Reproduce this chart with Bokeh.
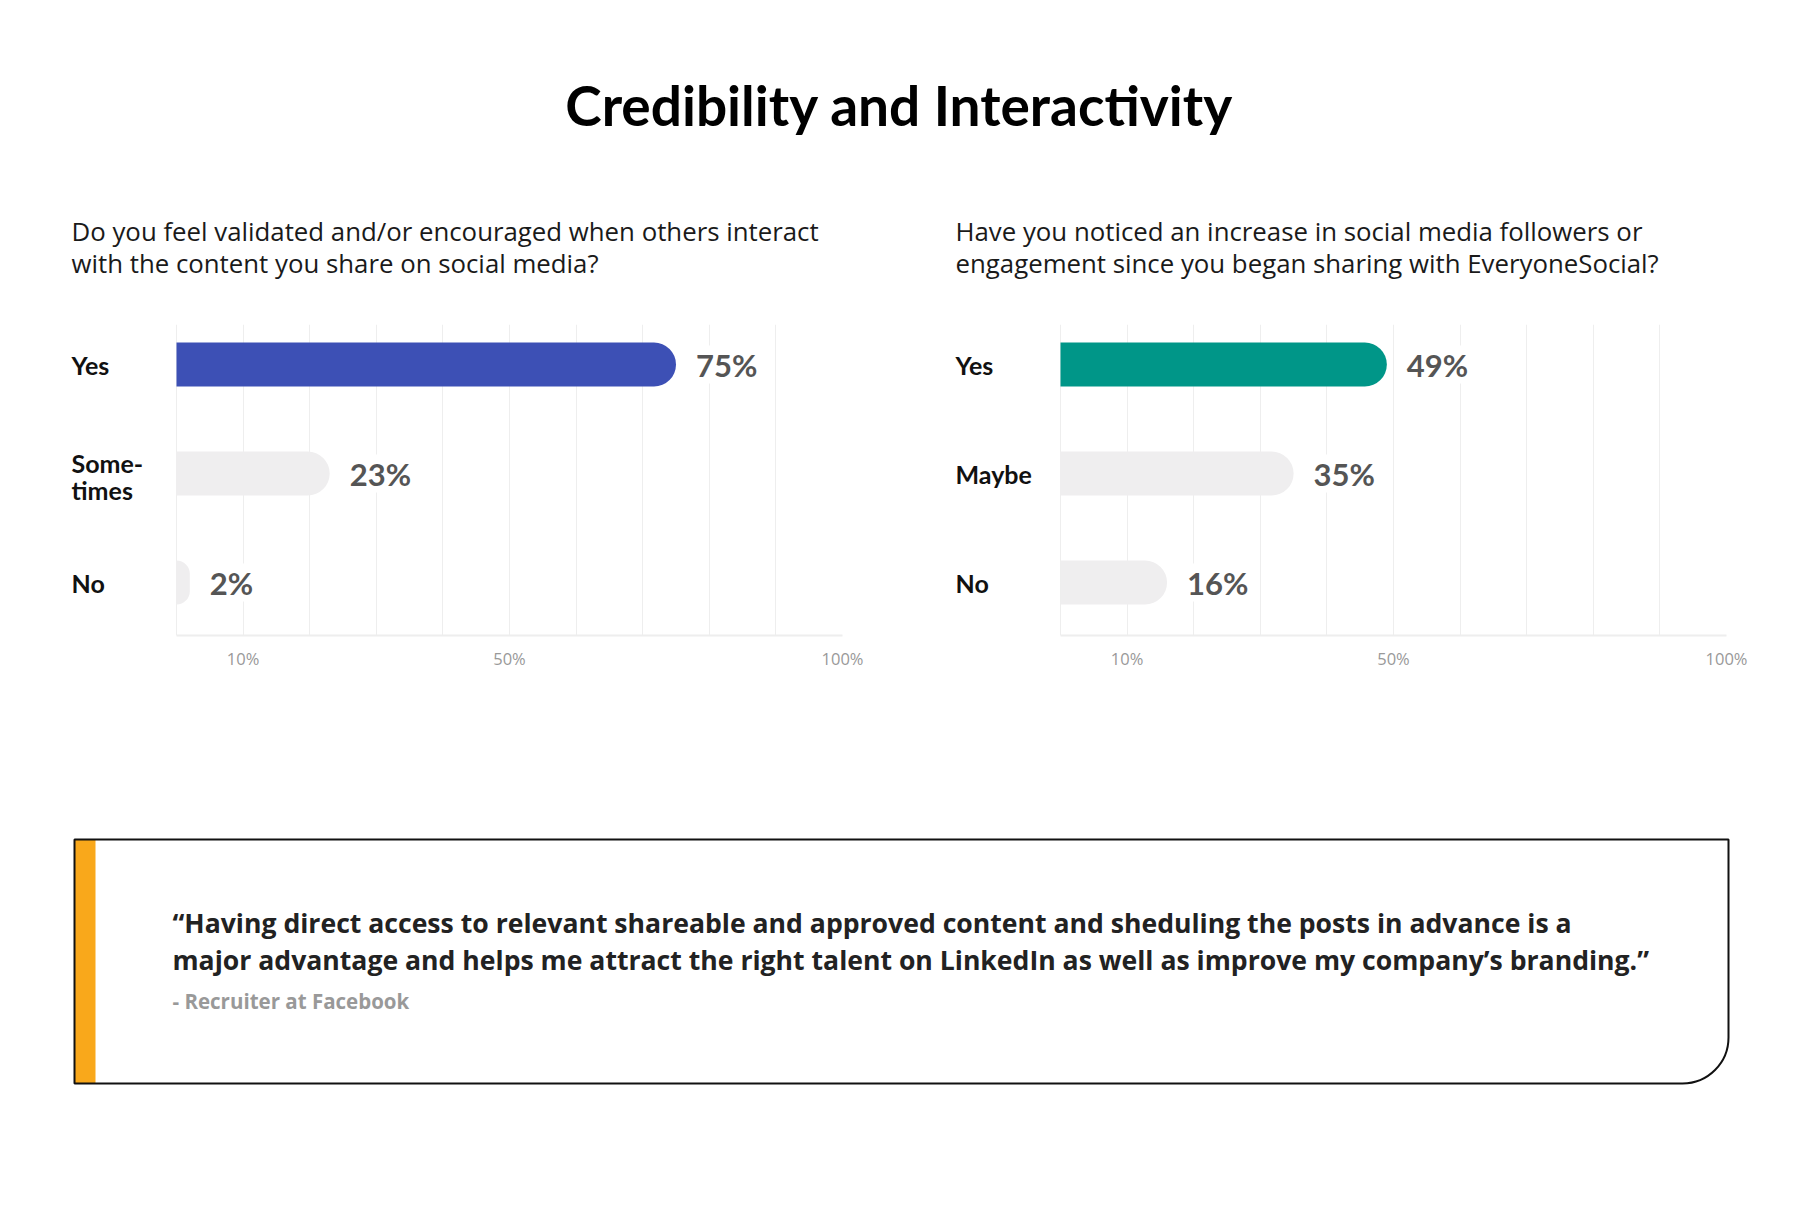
from bokeh.plotting import figure
from bokeh.models import Range1d, FixedTicker, Label
from bokeh.layouts import column, row
from bokeh.embed import file_html
from bokeh.resources import INLINE

# ---------------- data ----------------
TITLE = "Credibility and Interactivity"
Q1_LINES = ["Do you feel validated and/or encouraged when others interact",
            "with the content you share on social media?"]
Q2_LINES = ["Have you noticed an increase in social media followers or",
            "engagement since you began sharing with EveryoneSocial?"]
CATS1 = ["Yes", "Some-\ntimes", "No"]
VALS1 = [75, 23, 2]
CATS2 = ["Yes", "Maybe", "No"]
VALS2 = [49, 35, 16]
TICKS = [10, 50, 100]
TICK_LABELS = {10: "10%", 50: "50%", 100: "100%"}
GRID_TICKS = [0, 10, 20, 30, 40, 50, 60, 70, 80, 90, 100]
QUOTE_LINES = ["\u201cHaving direct access to relevant shareable and approved content and sheduling the posts in advance is a",
               "major advantage and helps me attract the right talent on LinkedIn as well as improve my company\u2019s branding.\u201d"]
ATTRIB = "- Recruiter at Facebook"

HFONT = "Lato"
BFONT = "Open Sans"
PAGE_W = 1784


def blank(width, height):
    f = figure(width=width, height=height, x_range=Range1d(0, width), y_range=Range1d(0, height),
               output_backend="svg", toolbar_location=None, min_border=0,
               x_axis_location=None, y_axis_location=None)
    f.outline_line_color = None
    f.xgrid.visible = False
    f.ygrid.visible = False
    return f


# ---------------- header (title + questions) ----------------
HEAD_H = 300
head = blank(PAGE_W, HEAD_H)
head.add_layout(Label(x=899, y=HEAD_H - 104, text=TITLE, text_align="center",
                      text_baseline="middle", text_font=HFONT, text_font_size="55px",
                      text_font_style="bold", text_color="#000000"))
for qx, qlines in ((71, Q1_LINES), (955, Q2_LINES)):
    for k, line in enumerate(qlines):
        head.add_layout(Label(x=qx, y=HEAD_H - (230 + 32 * k), text=line, text_baseline="middle",
                              text_font=BFONT, text_font_size="25.8px", text_color="#1a1a1a"))

# ---------------- charts ----------------
FW, FH = 666, 311
CH_H = 420
TOP = 24
Y0, Y1 = 2.486, -0.367
PPU = FH / (Y0 - Y1)
PAD = 116  # px of label room left of zero


def chart(cats, vals, color, fig_left, width, zero):
    frame_left = zero - PAD
    p = figure(width=width, height=CH_H, x_range=Range1d(-PAD * 100 / FW, 100), y_range=Range1d(Y0, Y1),
               output_backend="svg", toolbar_location=None,
               min_border_left=frame_left - fig_left, min_border_right=fig_left + width - (zero + FW),
               min_border_top=TOP, min_border_bottom=CH_H - TOP - FH,
               y_axis_location=None)
    p.outline_line_color = None
    p.ygrid.visible = False
    p.xgrid.ticker = FixedTicker(ticks=GRID_TICKS)
    p.xgrid.grid_line_color = "#eeeeee"
    p.xgrid.grid_line_width = 1
    ax = p.xaxis[0]
    ax.bounds = (0, 100)
    ax.ticker = FixedTicker(ticks=TICKS)
    ax.major_label_overrides = TICK_LABELS
    ax.axis_line_color = "#eeeeee"
    ax.axis_line_width = 2
    ax.major_tick_line_color = None
    ax.minor_tick_line_color = None
    ax.major_tick_out = 0
    ax.major_label_standoff = 11
    ax.major_label_text_font = BFONT
    ax.major_label_text_font_size = "16.5px"
    ax.major_label_text_color = "#999999"

    ys = list(range(len(cats)))
    colors = [color] + ["#efeeef"] * (len(cats) - 1)
    p.hbar(y=ys, left=0, right=vals, height=44 / PPU, fill_color=colors, line_color=None,
           border_radius=(0, 22, 22, 0))

    xlab = -105 * 100 / FW
    for i, (c, v) in enumerate(zip(cats, vals)):
        p.add_layout(Label(x=v, y=i, x_offset=20, text=f"{v}%", text_baseline="middle",
                           text_font=HFONT, text_font_size="31px", text_font_style="bold",
                           text_color="#555555", background_fill_color="white"))
        parts = c.split("\n")
        n = len(parts)
        for k, part in enumerate(parts):
            dy = (k - (n - 1) / 2) * 27 / PPU + (3 / PPU if n > 1 else 0)
            p.add_layout(Label(x=xlab, y=i + dy, text=part, text_baseline="middle",
                               text_font=HFONT, text_font_size="25px", text_font_style="bold",
                               text_color="#111111"))
    return p


left = chart(CATS1, VALS1, "#3d50b5", 0, 900, 176)
right = chart(CATS2, VALS2, "#009688", 900, 884, 1060)

# ---------------- quote ----------------
QH = 494
quote = blank(PAGE_W, QH)
BL, BR, BT, BB = 74, 1728, QH - 119, QH - 363
quote.quad(left=[BL], right=[BR], top=[BT], bottom=[BB], fill_color="white", line_color=None,
           border_radius=(0, 0, 46, 0))
quote.quad(left=[BL], right=[BL + 21], top=[BT], bottom=[BB], fill_color="#f9a81b", line_color=None)
quote.quad(left=[BL], right=[BR], top=[BT], bottom=[BB], fill_alpha=0, line_color="#111111",
           line_width=2, border_radius=(0, 0, 46, 0))
for k, line in enumerate(QUOTE_LINES):
    quote.add_layout(Label(x=172, y=QH - (202 + 37 * k), text=line, text_baseline="middle",
                           text_font=BFONT, text_font_size="26.6px", text_font_style="bold",
                           text_color="#222222"))
quote.add_layout(Label(x=172, y=QH - 280, text=ATTRIB, text_baseline="middle",
                       text_font=BFONT, text_font_size="20.5px", text_font_style="bold",
                       text_color="#999999"))

layout = column(head, row(left, right), quote)
open("out.html", "w").write(file_html(layout, INLINE))
